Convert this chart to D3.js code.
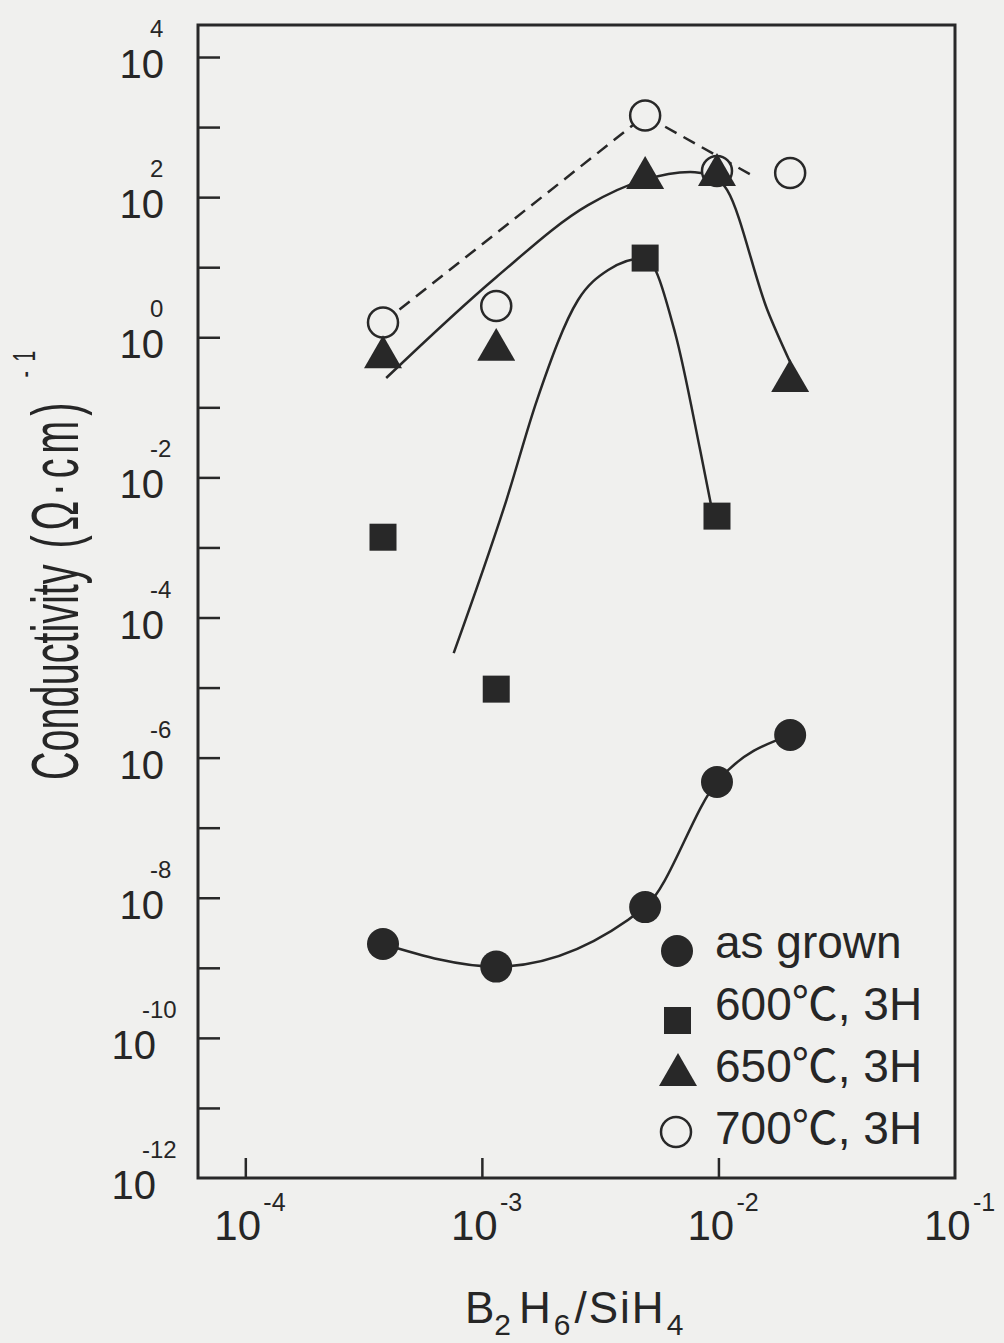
<!DOCTYPE html>
<html>
<head>
<meta charset="utf-8">
<script src="https://cdn.jsdelivr.net/npm/d3@7"></script>
<style>
	body { margin: 0; background: #f0f0ee; }
	svg { display: block; }
	text { font-family: "Liberation Sans", Arial, "Noto Sans CJK JP", sans-serif; fill: #262626; }
</style>
</head>
<body>
<svg id="chart" width="1004" height="1343"></svg>
<script>
// B2H6/SiH4 ratio of the samples
const ratio = [3.82e-4, 1.15e-3, 4.9e-3, 9.86e-3, 2.01e-2];
// conductivity (ohm cm)^-1
const asGrown = [2.19e-9, 1.04e-9, 7.36e-9, 4.49e-7, 2.1e-6];
const anneal600 = [1.4e-3, 9.5e-6, 13.5, 2.8e-3];
const anneal650 = [0.52, 0.66, 188, 207, 0.237];
const anneal700 = [1.62, 2.79, 1462, 236, 221];

// hand drawn guide curves [ratio, conductivity]
const fit600 = [[7.6e-4, 3.1e-5], [1.27e-3, 4.75e-3], [1.71e-3, 0.127], [2.55e-3, 3.4], [3.42e-3, 9.1],
	[4.9e-3, 13.5], [6.56e-3, 1.15], [8.37e-3, 0.0245], [9.4e-3, 3.4e-3]];
const fit650Rise = [[3.94e-4, 0.262], [1.15e-3, 7.2], [2.81e-3, 77], [4.81e-3, 175], [7.59e-3, 229], [9.77e-3, 200]];
const fit650Fall = [[9.77e-3, 200], [1.089e-2, 126], [1.61e-2, 2.45], [2.01e-2, 0.44]];
const fit700 = [[3.82e-4, 1.62], [4.9e-3, 1462], [1.45e-2, 188]];

const xTickExp = [-4, -3, -2];
const xLabelExp = [-4, -3, -2, -1];
const yTickExp = [4, 3, 2, 1, 0, -1, -2, -3, -4, -5, -6, -7, -8, -9, -10, -11];
const yLabelExp = [4, 2, 0, -2, -4, -6, -8, -10, -12];
const legendLabels = ["as grown", "600℃, 3H", "650℃, 3H", "700℃, 3H"];

const ink = "#282828";
const paper = "#f0f0ee";
const svg = d3.select("svg#chart");
const plot = { left: 198, right: 955, top: 25, bottom: 1178 };

const x = d3.scaleLog([Math.pow(10, -4.2), 1e-1], [plot.left, plot.right]);
const y = d3.scaleLog([1e-12, Math.pow(10, 4.457)], [plot.bottom, plot.top]);

// ticks (inside)
let yAxis = svg.append("g")
	.attr("transform", `translate(${plot.left},0)`)
	.call(d3.axisLeft(y).tickValues(yTickExp.map((e) => Math.pow(10, e))).tickSizeInner(-22).tickSizeOuter(0).tickFormat(""));
let xAxis = svg.append("g")
	.attr("transform", `translate(0,${plot.bottom})`)
	.call(d3.axisBottom(x).tickValues(xTickExp.map((e) => Math.pow(10, e))).tickSizeInner(-20).tickSizeOuter(0).tickFormat(""));
svg.selectAll(".domain").remove();
svg.selectAll(".tick line").attr("stroke", ink).attr("stroke-width", 2.5);

// frame
svg.append("rect")
	.attr("x", plot.left)
	.attr("y", plot.top)
	.attr("width", plot.right - plot.left)
	.attr("height", plot.bottom - plot.top)
	.attr("fill", "none")
	.attr("stroke", ink)
	.attr("stroke-width", 3);

// y tick labels
let yLabels = svg.append("g");
yLabelExp.forEach((e) => {
	const shift = Math.abs(e) >= 10 ? 8 : 0;
	yLabels.append("text")
		.attr("x", 164 - shift)
		.attr("y", y(Math.pow(10, e)) + 21)
		.attr("text-anchor", "end")
		.style("font-size", "40px")
		.text("10");
	yLabels.append("text")
		.attr("x", 150 - shift)
		.attr("y", y(Math.pow(10, e)) - 20)
		.style("font-size", "24px")
		.text(e);
});

// x tick labels
let xLabels = svg.append("g");
xLabelExp.forEach((e) => {
	xLabels.append("text")
		.attr("x", x(Math.pow(10, e)) - 31)
		.attr("y", 1240)
		.style("font-size", "42px")
		.text("10");
	xLabels.append("text")
		.attr("x", x(Math.pow(10, e)) + 18)
		.attr("y", 1211)
		.style("font-size", "25px")
		.text(e);
});

// axis titles
let yTitle = svg.append("text")
	.attr("transform", "translate(78,780) rotate(-90) scale(0.6,1)")
	.style("font-size", "66px");
yTitle.append("tspan").text("Conductivity");
yTitle.append("tspan").style("letter-spacing", "8px").text(" (Ω·cm)");
yTitle.append("tspan").attr("dy", -43).attr("dx", 34).style("font-size", "32px").style("letter-spacing", "16px").text("-1");

let xTitle = svg.append("text")
	.attr("x", 465)
	.attr("y", 1323)
	.style("font-size", "44px");
xTitle.append("tspan").text("B");
xTitle.append("tspan").attr("dy", 12).style("font-size", "30px").text("2");
xTitle.append("tspan").attr("dy", -12).attr("dx", 8).text("H");
xTitle.append("tspan").attr("dy", 12).attr("dx", 3).style("font-size", "30px").text("6");
xTitle.append("tspan").attr("dy", -12).attr("dx", 4).style("letter-spacing", "2px").text("/SiH");
xTitle.append("tspan").attr("dy", 12).attr("dx", 1).style("font-size", "30px").text("4");

// guide curves
const smooth = d3.line()
	.x((d) => x(d[0]))
	.y((d) => y(d[1]))
	.curve(d3.curveMonotoneX);
const straight = d3.line()
	.x((d) => x(d[0]))
	.y((d) => y(d[1]));

let chartArea = svg.append("g");
chartArea.append("path")
	.attr("d", straight(fit700))
	.attr("fill", "none")
	.attr("stroke", ink)
	.attr("stroke-width", 2.5)
	.attr("stroke-dasharray", "13 8");
[fit650Rise, fit650Fall, fit600, asGrown.map((v, i) => [ratio[i], v])].forEach((pts) => {
	chartArea.append("path")
		.attr("d", smooth(pts))
		.attr("fill", "none")
		.attr("stroke", ink)
		.attr("stroke-width", 2.5);
});

// markers
const openCircle = (g) => g.attr("r", 15).attr("fill", paper).attr("stroke", ink).attr("stroke-width", 2.5);
const fullCircle = (g) => g.attr("r", 16).attr("fill", ink);
const square = (g) => g.attr("width", 27).attr("height", 27).attr("fill", ink);
const triangle = d3.symbol(d3.symbolTriangle, 625);

chartArea.selectAll("c700").data(anneal700).enter().append("circle")
	.attr("cx", (d, i) => x(ratio[i]))
	.attr("cy", (d) => y(d))
	.call(openCircle);
chartArea.selectAll("s600").data(anneal600).enter().append("rect")
	.attr("x", (d, i) => x(ratio[i]) - 13.5)
	.attr("y", (d) => y(d) - 13.5)
	.call(square);
chartArea.selectAll("t650").data(anneal650).enter().append("path")
	.attr("d", triangle)
	.attr("transform", (d, i) => `translate(${x(ratio[i])},${y(d)})`)
	.attr("fill", ink);
chartArea.selectAll("grown").data(asGrown).enter().append("circle")
	.attr("cx", (d, i) => x(ratio[i]))
	.attr("cy", (d) => y(d))
	.call(fullCircle);

// legend
let legend = svg.append("g").attr("transform", "translate(677,951)");
const rowGap = 62;
legend.append("circle").attr("cx", 0).attr("cy", 0).call(fullCircle);
legend.append("rect").attr("x", -13).attr("y", rowGap - 6).call(square);
legend.append("path").attr("d", triangle).attr("transform", `translate(1,${2 * rowGap})`).attr("fill", ink);
legend.append("circle").attr("cx", -1).attr("cy", 3 * rowGap - 5).call(openCircle);
legendLabels.forEach((t, i) => {
	legend.append("text")
		.attr("x", 38)
		.attr("y", 7 + i * rowGap)
		.style("font-size", "46px")
		.text(t);
});
</script>
</body>
</html>
